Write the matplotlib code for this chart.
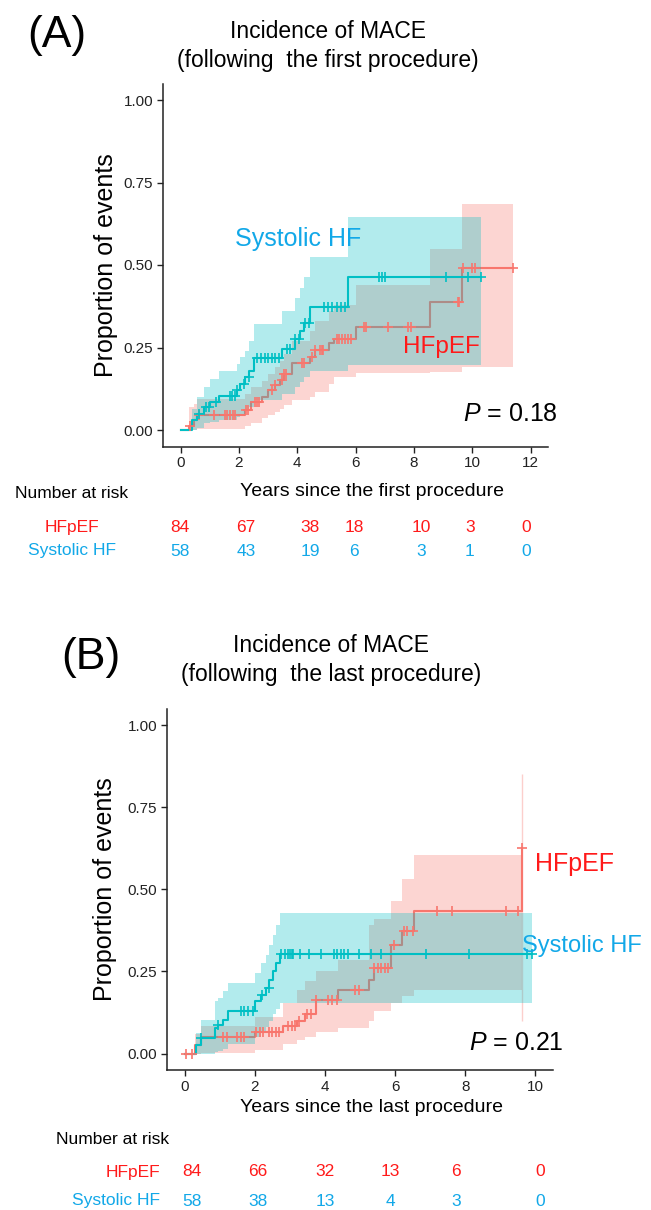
import numpy as np
import matplotlib
matplotlib.use("Agg")
import matplotlib.pyplot as plt

plt.rcParams['font.family'] = ['Liberation Sans', 'DejaVu Sans']
plt.rcParams['mathtext.fontset'] = 'custom'
plt.rcParams['mathtext.it'] = 'Liberation Sans:italic'
plt.rcParams['mathtext.rm'] = 'Liberation Sans'

# ---------------- data: panel A (following the first procedure) ----------------
A_hf_t = [0, 0.3, 0.45, 0.57, 2.2, 2.4, 2.8, 3.0, 3.25, 3.4, 3.55, 3.82, 4.45, 4.6, 5.1, 5.25, 6.0, 8.56, 9.65]
A_hf_y = [0, 0.012, 0.03, 0.045, 0.06, 0.086, 0.10, 0.12, 0.136, 0.152, 0.17, 0.202, 0.222, 0.242, 0.263, 0.275, 0.311, 0.389, 0.49]
A_hf_hi = [0, 0.07, 0.08, 0.095, 0.11, 0.13, 0.15, 0.17, 0.19, 0.21, 0.23, 0.27, 0.30, 0.33, 0.36, 0.38, 0.44, 0.55, 0.685]
A_hf_lo = [0, 0, 0, 0.003, 0.012, 0.02, 0.035, 0.045, 0.055, 0.065, 0.075, 0.09, 0.10, 0.115, 0.14, 0.16, 0.172, 0.175, 0.19]
A_hf_end = 11.4
A_hf_cens = [0.32, 0.63, 1.14, 1.54, 1.6, 1.7, 1.8, 1.88, 2.23, 2.3, 2.57, 2.63, 2.7, 3.14, 3.25, 3.48, 3.55, 3.6,
             4.17, 4.22, 4.5, 4.6, 4.78, 4.84, 4.9, 5.36, 5.45, 5.55, 5.65, 5.75, 5.85, 6.28, 6.35, 7.13, 7.8, 7.9,
             9.5, 9.56, 9.7, 10.0, 10.1, 11.4]

A_sys_t = [0, 0.4, 0.55, 0.8, 1.0, 1.31, 1.94, 2.05, 2.2, 2.35, 2.51, 3.48, 3.94, 4.1, 4.25, 4.45, 5.75]
A_sys_y = [0, 0.03, 0.05, 0.07, 0.085, 0.103, 0.12, 0.14, 0.16, 0.18, 0.217, 0.244, 0.275, 0.30, 0.323, 0.372, 0.465]
A_sys_hi = [0, 0.065, 0.10, 0.13, 0.155, 0.18, 0.20, 0.22, 0.24, 0.27, 0.32, 0.36, 0.40, 0.43, 0.465, 0.525, 0.646]
A_sys_lo = [0, 0, 0.005, 0.02, 0.025, 0.03, 0.04, 0.05, 0.06, 0.07, 0.09, 0.11, 0.13, 0.145, 0.16, 0.18, 0.197]
A_sys_end = 10.3
A_sys_cens = [0.63, 0.86, 0.97, 1.2, 1.71, 1.78, 1.86, 1.94, 2.17, 2.34, 2.62, 2.75, 2.88, 3.0, 3.12, 3.25, 3.37,
              3.65, 3.77, 3.94, 4.05, 4.28, 4.4, 4.91, 5.05, 5.2, 5.35, 5.5, 5.65, 6.8, 6.9, 7.0, 9.1, 9.87, 10.3]

# ---------------- data: panel B (following the last procedure) ----------------
B_hf_t = [0, 0.3, 0.48, 2.0, 2.8, 3.2, 3.42, 3.75, 4.37, 5.26, 5.4, 5.88, 6.2, 6.54, 9.62]
B_hf_y = [0, 0.025, 0.05, 0.065, 0.083, 0.10, 0.12, 0.164, 0.194, 0.225, 0.26, 0.33, 0.372, 0.433, 0.626]
B_hf_hi = [0, 0.06, 0.085, 0.11, 0.155, 0.194, 0.22, 0.25, 0.286, 0.39, 0.41, 0.463, 0.53, 0.605, 0.85]
B_hf_lo = [0, 0, 0.002, 0.012, 0.03, 0.04, 0.05, 0.065, 0.078, 0.098, 0.13, 0.155, 0.174, 0.194, 0.10]
B_hf_end = 9.62
B_hf_cens = [0.05, 0.2, 1.1, 1.2, 1.5, 1.6, 1.7, 2.05, 2.15, 2.25, 2.4, 2.5, 2.6, 2.7, 2.95, 3.05, 3.15, 3.25,
             3.5, 3.6, 3.75, 4.08, 4.2, 4.35, 4.87, 4.97, 5.4, 5.5, 5.6, 5.7, 5.8, 5.98, 6.25, 6.35, 6.5,
             7.2, 7.63, 9.15, 9.5, 9.62]

B_sys_t = [0, 0.34, 0.48, 0.86, 0.96, 1.1, 1.24, 2.0, 2.19, 2.33, 2.42, 2.52, 2.61, 2.71]
B_sys_y = [0, 0.027, 0.048, 0.078, 0.088, 0.103, 0.129, 0.159, 0.179, 0.2, 0.225, 0.25, 0.276, 0.303]
B_sys_hi = [0, 0.064, 0.103, 0.16, 0.17, 0.19, 0.215, 0.245, 0.276, 0.30, 0.33, 0.36, 0.39, 0.428]
B_sys_lo = [0, 0, 0, 0.004, 0.008, 0.015, 0.03, 0.05, 0.065, 0.08, 0.10, 0.12, 0.135, 0.155]
B_sys_end = 9.9
B_sys_cens = [0.48, 0.96, 1.6, 1.7, 1.8, 1.95, 2.2, 2.4, 2.75, 2.85, 2.95, 3.0, 3.05, 3.1, 3.3, 3.55, 3.88,
              4.25, 4.35, 4.45, 4.55, 4.67, 4.96, 5.3, 5.6, 6.88, 8.1, 9.75, 9.9]

# ---------------- number at risk ----------------
groups = ["HFpEF", "Systolic HF"]
A_risk_hf = [84, 67, 38, 18, 10, 3, 0]
A_risk_sys = [58, 43, 19, 6, 3, 1, 0]
B_risk_hf = [84, 66, 32, 13, 6, 0]
B_risk_sys = [58, 38, 13, 4, 3, 0]

RED = "#F8766D"
TEAL = "#00BFC4"
LBL_RED = "#FF1A1A"
LBL_BLUE = "#12A8E8"

W, H = 651, 1210
fig = plt.figure(figsize=(W / 100, H / 100), dpi=100)


def fx(px):
    return px / W


def fy(py):
    return 1 - py / H


def add_axes(l, r, t, b):
    return fig.add_axes([fx(l), fy(b), fx(r) - fx(l), fy(t) - fy(b)])


def draw_group(ax, t, y, lo, hi, end, color, layer):
    tt = list(t) + [end]
    yy = list(y) + [y[-1]]
    ll = list(lo) + [lo[-1]]
    hh = list(hi) + [hi[-1]]
    ax.fill_between(tt, ll, hh, step='post', color=color, alpha=0.3, linewidth=0, zorder=layer)
    if end <= t[-1] + 1e-9:
        ax.vlines(t[-1], lo[-1], hi[-1], color=color, alpha=0.35, linewidth=1.0, zorder=layer)
    ax.step(tt, yy, where='post', color=color, linewidth=1.5, zorder=layer + 0.5)


def draw_cens(ax, t, y, cens, color):
    idx = np.searchsorted(np.array(t), np.array(cens), side='right') - 1
    ys = np.array(y)[idx]
    ax.plot(cens, ys, linestyle='none', marker='+', markersize=7, markeredgewidth=1.2,
            color=color, zorder=10)


def style_axes(ax, xmax, xticks):
    ax.set_xlim(-0.05 * xmax, xmax * 1.05)
    ax.set_ylim(-0.05, 1.05)
    ax.set_xticks(xticks)
    ax.set_yticks([0, 0.25, 0.5, 0.75, 1.0])
    ax.set_yticklabels(["0.00", "0.25", "0.50", "0.75", "1.00"])
    for s in ['top', 'right']:
        ax.spines[s].set_visible(False)
    for s in ['left', 'bottom']:
        ax.spines[s].set_linewidth(1.1)
        ax.spines[s].set_color('#222222')
    ax.tick_params(axis='both', labelsize=11, colors='#222222', length=4, width=1,
                   labelcolor='#222222', pad=3)
    ax.patch.set_alpha(0)


# ---------------- panel A ----------------
axA = add_axes(163, 548, 83.5, 446.5)
draw_group(axA, A_hf_t, A_hf_y, A_hf_lo, A_hf_hi, A_hf_end, RED, 2)
draw_group(axA, A_sys_t, A_sys_y, A_sys_lo, A_sys_hi, A_sys_end, TEAL, 3)
draw_cens(axA, A_hf_t, A_hf_y, A_hf_cens, RED)
draw_cens(axA, A_sys_t, A_sys_y, A_sys_cens, TEAL)
style_axes(axA, 12, [0, 2, 4, 6, 8, 10, 12])
axA.set_ylabel("Proportion of events", fontsize=18)
axA.yaxis.set_label_coords((118 - 163) / 385, 0.5)

fig.text(fx(27), fy(35), "(A)", fontsize=32, ha='left', va='center')
fig.text(fx(328), fy(32), "Incidence of MACE", fontsize=16.5, ha='center', va='center')
fig.text(fx(328), fy(60), "(following  the first procedure)", fontsize=16.5, ha='center', va='center')
fig.text(fx(235), fy(239), "Systolic HF", fontsize=18, color=LBL_BLUE, ha='left', va='center')
fig.text(fx(403), fy(347), "HFpEF", fontsize=17.5, color=LBL_RED, ha='left', va='center')
fig.text(fx(510), fy(414), r"$\it{P}$ = 0.18", fontsize=18, ha='center', va='center')
fig.text(fx(372), fy(492), "Years since the first procedure", fontsize=14, ha='center', va='center')
fig.text(fx(15), fy(494), "Number at risk", fontsize=12.5, ha='left', va='center')

A_risk_x = [180, 246, 310, 354, 421, 470, 526]
for g, vals, col, yy in [(groups[0], A_risk_hf, LBL_RED, 528), (groups[1], A_risk_sys, LBL_BLUE, 551)]:
    fig.text(fx(72), fy(yy), g, fontsize=12.5, color=col, ha='center', va='center')
    for xp, v in zip(A_risk_x, vals):
        fig.text(fx(xp), fy(yy), str(v), fontsize=12.5, color=col, ha='center', va='center')

# ---------------- panel B ----------------
axB = add_axes(167, 553, 708.6, 1070)
draw_group(axB, B_hf_t, B_hf_y, B_hf_lo, B_hf_hi, B_hf_end, RED, 2)
draw_group(axB, B_sys_t, B_sys_y, B_sys_lo, B_sys_hi, B_sys_end, TEAL, 3)
draw_cens(axB, B_hf_t, B_hf_y, B_hf_cens, RED)
draw_cens(axB, B_sys_t, B_sys_y, B_sys_cens, TEAL)
style_axes(axB, 10, [0, 2, 4, 6, 8, 10])
axB.set_ylabel("Proportion of events", fontsize=18)
axB.yaxis.set_label_coords((117 - 167) / 386, 0.5)

fig.text(fx(61), fy(658), "(B)", fontsize=32, ha='left', va='center')
fig.text(fx(331), fy(645), "Incidence of MACE", fontsize=16.5, ha='center', va='center')
fig.text(fx(331), fy(675), "(following  the last procedure)", fontsize=16.5, ha='center', va='center')
fig.text(fx(535), fy(864), "HFpEF", fontsize=18, color=LBL_RED, ha='left', va='center')
fig.text(fx(522), fy(946), "Systolic HF", fontsize=17, color=LBL_BLUE, ha='left', va='center')
fig.text(fx(516), fy(1043), r"$\it{P}$ = 0.21", fontsize=18, ha='center', va='center')
fig.text(fx(371), fy(1108), "Years since the last procedure", fontsize=14, ha='center', va='center')
fig.text(fx(56), fy(1140), "Number at risk", fontsize=12.5, ha='left', va='center')

B_risk_x = [192, 258, 325, 390, 456, 540]
for g, vals, col, yy in [(groups[0], B_risk_hf, LBL_RED, 1172), (groups[1], B_risk_sys, LBL_BLUE, 1201)]:
    fig.text(fx(160), fy(yy), g, fontsize=12.5, color=col, ha='right', va='center')
    for xp, v in zip(B_risk_x, vals):
        fig.text(fx(xp), fy(yy), str(v), fontsize=12.5, color=col, ha='center', va='center')

fig.savefig("out.png", dpi=100)
